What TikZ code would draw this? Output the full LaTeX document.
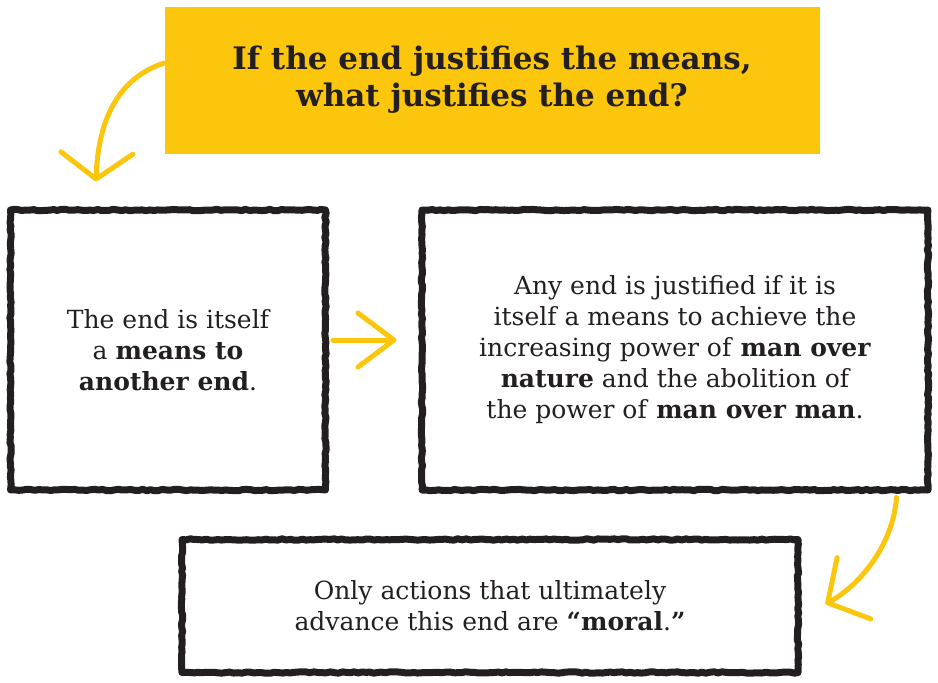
\documentclass[tikz,border=0pt]{standalone}
\usepackage{fontspec}
\setmainfont{DejaVu Serif}
\usetikzlibrary{arrows.meta,positioning,calc,decorations.pathmorphing}
\definecolor{mustard}{RGB}{252,198,12}
\definecolor{ink}{RGB}{35,31,32}

\begin{document}
\begin{tikzpicture}[
    x=1pt, y=-1pt,
    banner/.style={fill=mustard, minimum width=655pt, minimum height=147pt, inner sep=0pt,
      align=center, text=ink, font=\fontsize{31}{37}\selectfont\bfseries},
    chalkbox/.style={draw=ink, line width=7pt, line join=round, decorate,
      decoration={random steps, segment length=4pt, amplitude=0.7pt},
      inner sep=0pt, align=center, text=ink, font=\fontsize{25}{31}\selectfont},
    yarrow/.style={draw=mustard, line width=5pt, line cap=round},
  ]
  \pgfmathsetseed{7}
  \useasboundingbox (0,0) rectangle (938,683);

  % ---------------- question
  \node[banner] (title) at (492,80) {If the end justifies the means,\\what justifies the end?};

  % ---------------- boxes
  \node[chalkbox, minimum width=315pt, minimum height=280pt] (leftbox) at (168,350)
       {The end is itself\\a \textbf{means to}\\\textbf{another end}.};
  \node[chalkbox, minimum width=506pt, minimum height=280pt] (rightbox) at (675,350)
       {Any end is justified if it is\\itself a means to achieve the\\increasing power of \textbf{man over}\\\textbf{nature} and the abolition of\\the power of \textbf{man over man}.};
  \node[chalkbox, minimum width=616pt, minimum height=133pt] (bottombox) at (490,606)
       {Only actions that ultimately\\advance this end are \textbf{``moral}.\textbf{''}};

  % ---------------- arrows
  \coordinate (qstart) at ([yshift=17pt]title.west);
  \coordinate (qend) at ($(leftbox.north west)+(89,-25)$);
  \draw[yarrow, -{Straight Barb[length=26pt, width=72pt, round]}]
       (qstart) .. controls (118,78) and (98,120) .. (qend);

  \draw[yarrow, -{Straight Barb[length=36pt, width=54pt, round]}, shorten <=4pt, shorten >=22pt]
       ([yshift=10pt]leftbox.east) -- ([yshift=10pt]rightbox.west);

  \coordinate (rstart) at ($(rightbox.south east)+(-35,4)$);
  \coordinate (rend) at ($(bottombox.east)+(24,-2)$);
  \draw[yarrow, -{Straight Barb[length=30pt, width=70pt, round]}]
       (rstart) .. controls (893,545) and (860,585) .. (rend);
\end{tikzpicture}
\end{document}
